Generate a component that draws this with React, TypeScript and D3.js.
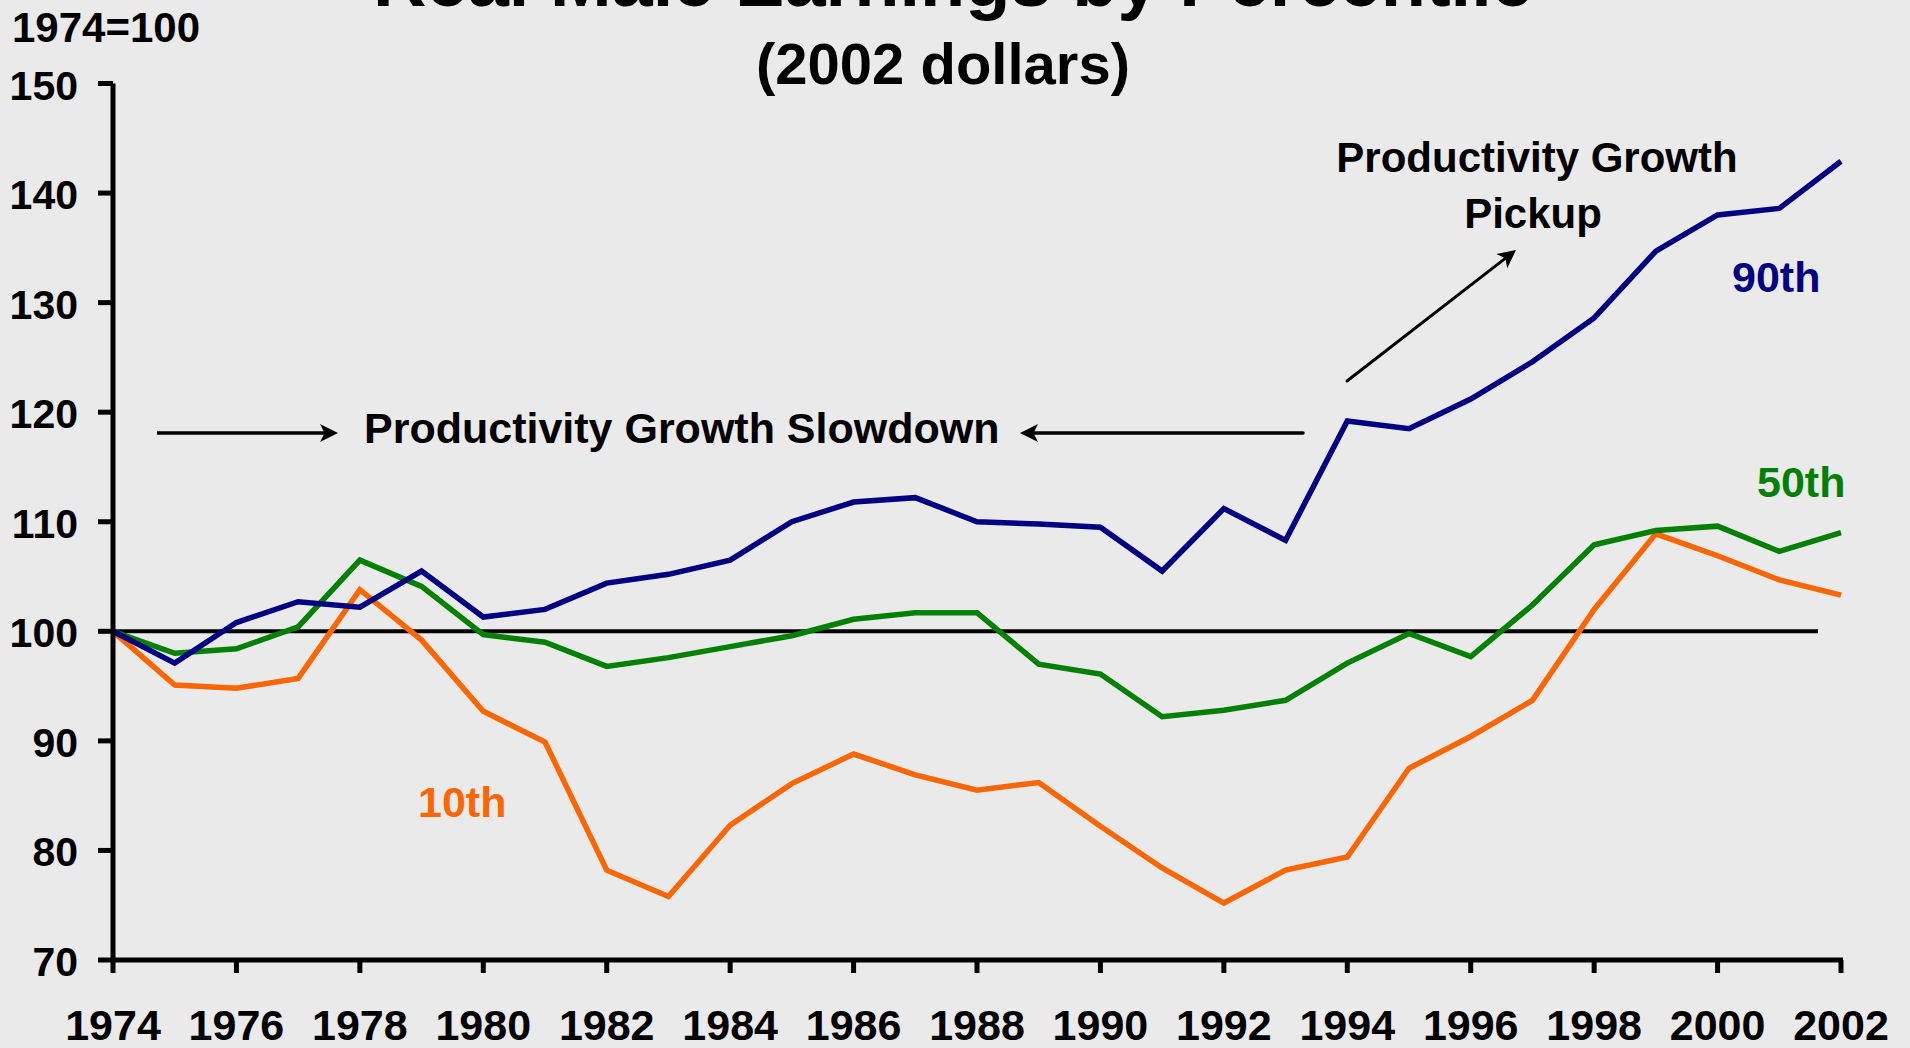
import React from "react";
import * as d3 from "d3";

const years: number[] = d3.range(1974, 2003);
const p90: number[] = [100, 97.1, 100.8, 102.7, 102.2, 105.5, 101.3, 102.0, 104.4, 105.2, 106.5, 110.0, 111.8, 112.2, 110.0, 109.8, 109.5, 105.5, 111.2, 108.3, 119.2, 118.5, 121.2, 124.6, 128.6, 134.7, 138.0, 138.6, 142.9];
const p50: number[] = [100, 98.0, 98.4, 100.4, 106.5, 104.1, 99.7, 99.0, 96.8, 97.6, 98.6, 99.6, 101.1, 101.7, 101.7, 97.0, 96.1, 92.2, 92.8, 93.7, 97.1, 99.8, 97.7, 102.4, 107.9, 109.2, 109.6, 107.3, 109.0];
const p10: number[] = [100, 95.1, 94.8, 95.7, 103.8, 99.2, 92.7, 89.9, 78.2, 75.8, 82.3, 86.1, 88.8, 86.9, 85.5, 86.2, 82.2, 78.4, 75.2, 78.2, 79.4, 87.5, 90.4, 93.7, 102.0, 108.9, 106.9, 104.7, 103.3];
const xTicks: number[] = d3.range(1974, 2003, 2);
const yTicks: number[] = d3.range(70, 151, 10);

const seriesDefs = [
  { name: "10th", values: p10, color: "#FF6600" },
  { name: "50th", values: p50, color: "#008000" },
  { name: "90th", values: p90, color: "#000080" },
];

const W = 1910;
const H = 1048;
const FONT = "'Liberation Sans', Arial, Helvetica, sans-serif";

export default function App() {
  const x = d3.scaleLinear().domain([1974, 2002]).range([113, 1841]);
  const y = d3.scaleLinear().domain([70, 150]).range([960, 83.5]);
  const line = d3
    .line<number>()
    .x((_, i) => x(years[i]))
    .y((d) => y(d));

  const arrowHead = (tipX: number, tipY: number, dir: number) => {
    const L = 18;
    const hw = 9;
    const bx = tipX - L * Math.cos(dir);
    const by = tipY - L * Math.sin(dir);
    const px = -Math.sin(dir);
    const py = Math.cos(dir);
    const nx = bx + (tipX - bx) * 0.25;
    const ny = by + (tipY - by) * 0.25;
    return `M${tipX},${tipY} L${bx + px * hw},${by + py * hw} L${nx},${ny} L${bx - px * hw},${by - py * hw} Z`;
  };

  const diagAngle = Math.atan2(250 - 381, 1516 - 1347);

  return (
    <svg
      width={W}
      height={H}
      style={{ position: "absolute", left: 0, top: 0, display: "block" }}
      fontFamily={FONT}
      fontWeight="bold"
    >
      <rect x={0} y={0} width={W} height={H} fill="#EAEAEA" />

      {/* Title */}
      <text x={953} y={6} textAnchor="middle" fontSize={74} fill="#000">
        Real Male Earnings by Percentile
      </text>
      <text x={943} y={84} textAnchor="middle" fontSize={58} fill="#000">
        (2002 dollars)
      </text>
      <text x={12} y={42} fontSize={42} fill="#000">
        1974=100
      </text>

      {/* reference line at 100 */}
      <line x1={x(1974)} x2={1818} y1={y(100)} y2={y(100)} stroke="#000" strokeWidth={4} />

      {/* series */}
      {seriesDefs.map((s) => (
        <path
          key={s.name}
          d={line(s.values) || ""}
          fill="none"
          stroke={s.color}
          strokeWidth={5.5}
          strokeLinejoin="miter"
        />
      ))}

      {/* axes */}
      <line x1={x(1974)} x2={x(1974)} y1={y(150)} y2={y(70)} stroke="#000" strokeWidth={5} />
      <line x1={x(1974) - 2} x2={x(2002) + 2} y1={y(70)} y2={y(70)} stroke="#000" strokeWidth={5} />
      {yTicks.map((t) => (
        <g key={t}>
          <line x1={x(1974) - 15} x2={x(1974)} y1={y(t)} y2={y(t)} stroke="#000" strokeWidth={5} />
          <text x={78} y={y(t) + 16} textAnchor="end" fontSize={41} fill="#000">
            {t}
          </text>
        </g>
      ))}
      {xTicks.map((t) => (
        <g key={t}>
          <line x1={x(t)} x2={x(t)} y1={y(70)} y2={y(70) + 13} stroke="#000" strokeWidth={5} />
          <text x={x(t)} y={1040} textAnchor="middle" fontSize={43} fill="#000">
            {t}
          </text>
        </g>
      ))}

      {/* annotations */}
      <line x1={157} x2={325} y1={433} y2={433} stroke="#000" strokeWidth={3.5} />
      <path d={arrowHead(338, 433, 0)} fill="#000" />
      <text x={364} y={443} fontSize={43} fill="#000">
        Productivity Growth Slowdown
      </text>
      <line x1={1303} x2={1033} y1={433} y2={433} stroke="#000" strokeWidth={3.5} strokeLinecap="round" />
      <path d={arrowHead(1020, 433, Math.PI)} fill="#000" />

      <line
        x1={1347}
        y1={381}
        x2={1516 - 14 * Math.cos(diagAngle)}
        y2={250 - 14 * Math.sin(diagAngle)}
        stroke="#000"
        strokeWidth={3}
        strokeLinecap="round"
      />
      <path d={arrowHead(1516, 250, diagAngle)} fill="#000" />
      <text x={1537} y={172} textAnchor="middle" fontSize={42} fill="#000">
        Productivity Growth
      </text>
      <text x={1533} y={228} textAnchor="middle" fontSize={42} fill="#000">
        Pickup
      </text>

      {/* series labels */}
      <text x={1732} y={292} fontSize={43} fill="#000080">
        90th
      </text>
      <text x={1757} y={497} fontSize={43} fill="#008000">
        50th
      </text>
      <text x={418} y={817} fontSize={43} fill="#FF6600">
        10th
      </text>
    </svg>
  );
}
